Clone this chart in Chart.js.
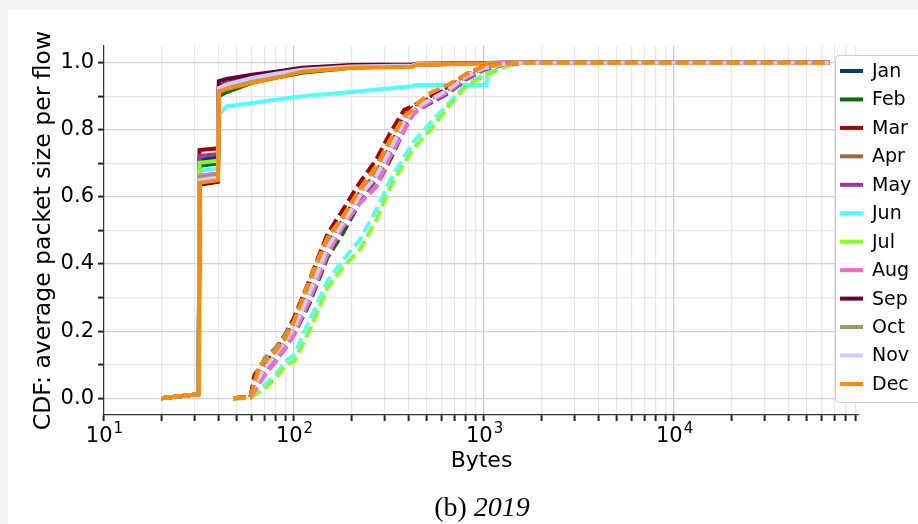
<!DOCTYPE html>
<html>
<head>
<meta charset="utf-8">
<title>CDF: average packet size per flow - 2019</title>
<script src="https://cdn.jsdelivr.net/npm/chart.js@4.4.1/dist/chart.umd.min.js"></script>
<style>
  html, body { margin: 0; padding: 0; background: #f3f3f3; }
  #panel { position: absolute; left: 8px; top: 10px; width: 910px; height: 514px; background: #fff; overflow: hidden; }
  canvas { display: block; }
</style>
</head>
<body>
<div id="panel"><canvas id="cdfChart" width="910" height="514"></canvas></div>
<script>
const months = ['Jan', 'Feb', 'Mar', 'Apr', 'May', 'Jun', 'Jul', 'Aug', 'Sep', 'Oct', 'Nov', 'Dec'];
const monthColors = ['#0a3a6b', '#0a6e0a', '#a30000', '#a26639', '#a0379f', '#55ffff',
                     '#88ff2a', '#ff66cc', '#660033', '#999966', '#ccccff', '#ff8c00'];

// solid curves: bytes and CDF per month
const solidBytes = [20, 31.5, 31.8, 39.8, 40.2, 44, 60, 80, 110, 200, 420, 440, 1030, 1045, 1600, 66000];
const solidCdf = [
  [0, 0.012, 0.710, 0.718, 0.920, 0.930, 0.952, 0.965, 0.978, 0.988, 0.991, 0.995, 0.998, 0.999, 1, 1],
  [0, 0.012, 0.693, 0.700, 0.900, 0.912, 0.940, 0.955, 0.970, 0.985, 0.990, 0.995, 0.998, 0.999, 1, 1],
  [0, 0.012, 0.740, 0.745, 0.930, 0.940, 0.958, 0.970, 0.982, 0.990, 0.993, 0.996, 0.998, 0.999, 1, 1],
  [0, 0.012, 0.662, 0.670, 0.915, 0.928, 0.950, 0.963, 0.976, 0.987, 0.990, 0.995, 0.998, 0.999, 1, 1],
  [0, 0.012, 0.722, 0.728, 0.928, 0.938, 0.956, 0.968, 0.980, 0.989, 0.992, 0.996, 0.998, 0.999, 1, 1],
  [0, 0.012, 0.678, 0.685, 0.845, 0.870, 0.880, 0.890, 0.900, 0.913, 0.930, 0.934, 0.934, 1, 1, 1],
  [0, 0.012, 0.702, 0.708, 0.915, 0.926, 0.948, 0.962, 0.975, 0.987, 0.990, 0.995, 0.998, 0.999, 1, 1],
  [0, 0.012, 0.663, 0.670, 0.918, 0.930, 0.950, 0.964, 0.977, 0.988, 0.991, 0.995, 0.998, 0.999, 1, 1],
  [0, 0.012, 0.636, 0.645, 0.945, 0.952, 0.964, 0.973, 0.985, 0.993, 0.995, 0.997, 0.999, 0.999, 1, 1],
  [0, 0.012, 0.657, 0.665, 0.912, 0.925, 0.948, 0.962, 0.975, 0.987, 0.990, 0.995, 0.998, 0.999, 1, 1],
  [0, 0.012, 0.650, 0.658, 0.925, 0.935, 0.955, 0.967, 0.979, 0.989, 0.992, 0.996, 0.998, 0.999, 1, 1],
  [0, 0.012, 0.642, 0.650, 0.915, 0.922, 0.940, 0.955, 0.973, 0.985, 0.988, 0.995, 0.998, 0.999, 1, 1]
];

// dashed curves: bytes and CDF per month
const dashedBytes = [48, 59, 62, 66, 70, 80, 90, 100, 120, 150, 180, 220, 270, 320, 380, 420, 450, 520, 650, 800, 1000, 1300, 1600, 66000];
const dashedCdf = [
  [0, 0.003, 0.035, 0.06, 0.085, 0.125, 0.165, 0.205, 0.30, 0.445, 0.515, 0.595, 0.655, 0.735, 0.82, 0.855, 0.865, 0.885, 0.915, 0.955, 0.982, 0.996, 1, 1],
  [0, 0.002, 0.03, 0.05, 0.07, 0.11, 0.15, 0.19, 0.28, 0.42, 0.49, 0.58, 0.63, 0.71, 0.80, 0.845, 0.86, 0.88, 0.91, 0.95, 0.98, 0.995, 1, 1],
  [0, 0.005, 0.07, 0.09, 0.11, 0.15, 0.19, 0.24, 0.35, 0.49, 0.56, 0.64, 0.71, 0.79, 0.86, 0.87, 0.88, 0.90, 0.93, 0.965, 0.99, 0.998, 1, 1],
  [0, 0.003, 0.04, 0.065, 0.09, 0.13, 0.17, 0.21, 0.31, 0.45, 0.52, 0.60, 0.66, 0.74, 0.83, 0.86, 0.87, 0.89, 0.92, 0.96, 0.985, 0.997, 1, 1],
  [0, 0.003, 0.03, 0.055, 0.08, 0.12, 0.16, 0.20, 0.30, 0.44, 0.51, 0.59, 0.65, 0.73, 0.81, 0.85, 0.86, 0.88, 0.91, 0.95, 0.98, 0.995, 1, 1],
  [0, 0.0, 0.015, 0.03, 0.04, 0.07, 0.11, 0.13, 0.23, 0.35, 0.41, 0.47, 0.56, 0.65, 0.72, 0.76, 0.78, 0.82, 0.88, 0.935, 0.965, 0.99, 1, 1],
  [0, 0.0, 0.01, 0.02, 0.03, 0.06, 0.10, 0.11, 0.20, 0.33, 0.39, 0.44, 0.53, 0.63, 0.70, 0.74, 0.76, 0.80, 0.87, 0.93, 0.96, 0.99, 1, 1],
  [0, 0.002, 0.02, 0.045, 0.07, 0.11, 0.15, 0.19, 0.29, 0.43, 0.51, 0.58, 0.63, 0.72, 0.80, 0.845, 0.86, 0.885, 0.915, 0.955, 0.983, 0.996, 1, 1],
  [0, 0.004, 0.05, 0.08, 0.10, 0.14, 0.18, 0.22, 0.32, 0.46, 0.53, 0.61, 0.67, 0.75, 0.84, 0.865, 0.875, 0.895, 0.925, 0.962, 0.987, 0.997, 1, 1],
  [0, 0.003, 0.04, 0.08, 0.12, 0.15, 0.19, 0.23, 0.33, 0.47, 0.53, 0.61, 0.67, 0.75, 0.83, 0.86, 0.875, 0.89, 0.92, 0.96, 0.985, 0.997, 1, 1],
  [0, 0.003, 0.04, 0.065, 0.09, 0.13, 0.17, 0.21, 0.31, 0.45, 0.52, 0.60, 0.66, 0.74, 0.825, 0.86, 0.87, 0.89, 0.92, 0.96, 0.985, 0.997, 1, 1],
  [0, 0.003, 0.05, 0.10, 0.11, 0.14, 0.18, 0.23, 0.35, 0.48, 0.54, 0.62, 0.69, 0.77, 0.84, 0.86, 0.88, 0.91, 0.935, 0.965, 0.99, 0.998, 1, 1]
];

// axis ticks
const xMajorTicks = [10, 100, 1000, 10000];
const xMinorTicks = [20, 30, 40, 50, 60, 70, 80, 90,
                     200, 300, 400, 500, 600, 700, 800, 900,
                     2000, 3000, 4000, 5000, 6000, 7000, 8000, 9000,
                     20000, 30000, 40000, 50000, 60000, 70000, 80000, 90000];
const xTickExponents = ['1', '2', '3', '4'];
const yTicks = [0, 0.1, 0.2, 0.3, 0.4, 0.5, 0.6, 0.7, 0.8, 0.9, 1.0];
const yTickLabels = ['0.0', '', '0.2', '', '0.4', '', '0.6', '', '0.8', '', '1.0'];

const xTitle = 'Bytes';
const yTitle = 'CDF: average packet size per flow';
const captionLetter = '(b) ';
const captionYear = '2019';

function buildDatasets() {
  const datasets = [];
  months.forEach((m, i) => {
    datasets.push({
      label: m,
      data: solidBytes.map((b, k) => ({ x: b, y: solidCdf[i][k] })),
      borderColor: monthColors[i],
      borderWidth: 4,
      order: 100 - i
    });
  });
  // dashed ones are drawn after all the solid ones
  months.forEach((m, i) => {
    datasets.push({
      label: m + ' (dashed)',
      data: dashedBytes.map((b, k) => ({ x: b, y: dashedCdf[i][k] })),
      borderColor: monthColors[i],
      borderWidth: 4,
      borderDash: [12, 5],
      order: 100 - 12 - i
    });
  });
  return datasets;
}

// tick labels with superscripts, axis titles, caption
const axisText = {
  id: 'axisText',
  afterDraw(chart) {
    const ctx = chart.ctx;
    const xs = chart.scales.x;
    const area = chart.chartArea;
    ctx.save();
    ctx.fillStyle = '#000';
    ctx.textBaseline = 'alphabetic';

    xMajorTicks.forEach((v, i) => {
      const px = xs.getPixelForValue(v);
      ctx.font = '21px "DejaVu Sans"';
      const wBase = ctx.measureText('10').width;
      ctx.font = '15px "DejaVu Sans"';
      const wExp = ctx.measureText(xTickExponents[i]).width;
      const left = px - (wBase + wExp) / 2;
      ctx.font = '21px "DejaVu Sans"';
      ctx.textAlign = 'left';
      ctx.fillText('10', left, 432);
      ctx.font = '15px "DejaVu Sans"';
      ctx.fillText(xTickExponents[i], left + wBase + 1, 423);
    });

    ctx.font = '22px "DejaVu Sans"';
    ctx.textAlign = 'center';
    ctx.fillText(xTitle, (area.left + area.right) / 2, 457);

    ctx.save();
    ctx.translate(42, (area.top + area.bottom) / 2);
    ctx.rotate(-Math.PI / 2);
    ctx.font = '23.5px "DejaVu Sans"';
    ctx.fillText(yTitle, 0, 0);
    ctx.restore();

    ctx.textAlign = 'left';
    ctx.font = '28px "Liberation Serif"';
    const w1 = ctx.measureText(captionLetter).width;
    ctx.font = 'italic 28px "Liberation Serif"';
    const w2 = ctx.measureText(captionYear).width;
    const cx = 474 - (w1 + w2) / 2;
    ctx.font = '28px "Liberation Serif"';
    ctx.fillText(captionLetter, cx, 506);
    ctx.font = 'italic 28px "Liberation Serif"';
    ctx.fillText(captionYear, cx + w1, 506);
    ctx.restore();
  }
};

const legendBox = {
  id: 'legendBox',
  afterDraw(chart) {
    const ctx = chart.ctx;
    ctx.save();
    ctx.beginPath();
    ctx.roundRect(827.5, 45.5, 110, 347, 4);
    ctx.fillStyle = 'rgba(255,255,255,0.85)';
    ctx.fill();
    ctx.strokeStyle = '#cccccc';
    ctx.lineWidth = 1;
    ctx.stroke();
    ctx.font = '19px "DejaVu Sans"';
    ctx.textBaseline = 'middle';
    months.forEach((m, i) => {
      const yy = 61 + i * 28.45;
      ctx.strokeStyle = monthColors[i];
      ctx.lineWidth = 4;
      ctx.beginPath();
      ctx.moveTo(832, yy);
      ctx.lineTo(855, yy);
      ctx.stroke();
      ctx.fillStyle = '#000';
      ctx.fillText(m, 864, yy + 1);
    });
    ctx.restore();
  }
};

const ctx = document.getElementById('cdfChart').getContext('2d');
new Chart(ctx, {
  type: 'line',
  data: { datasets: buildDatasets() },
  options: {
    responsive: false,
    animation: false,
    devicePixelRatio: 1,
    layout: { padding: { left: 0, top: 36, right: 59, bottom: 0 } },
    elements: { point: { radius: 0 }, line: { tension: 0 } },
    plugins: { legend: { display: false }, tooltip: { enabled: false } },
    scales: {
      x: {
        type: 'logarithmic',
        min: 10,
        max: 94000,
        afterBuildTicks: scale => {
          scale.ticks = xMajorTicks.concat(xMinorTicks).sort((a, b) => a - b)
            .map(v => ({ value: v }));
        },
        afterFit: scale => { scale.height = 109; },
        ticks: { display: false, autoSkip: false },
        grid: {
          color: c => xMajorTicks.includes(c.tick.value) ? '#c8c8c8' : '#e6e6e6',
          lineWidth: 1.2,
          drawTicks: true,
          tickLength: 6,
          tickWidth: 2,
          tickColor: '#222'
        },
        border: { display: true, color: '#333', width: 1.2 }
      },
      y: {
        type: 'linear',
        min: -0.05,
        max: 1.05,
        afterBuildTicks: scale => {
          scale.ticks = yTicks.map(v => ({ value: v }));
        },
        afterFit: scale => { scale.width = 96; },
        ticks: {
          autoSkip: false,
          padding: 4,
          color: '#000',
          font: { family: 'DejaVu Sans', size: 21 },
          callback: (v, i) => yTickLabels[i]
        },
        grid: {
          color: c => (Math.round(c.tick.value * 10) % 2 === 0) ? '#d2d2d2' : '#e6e6e6',
          lineWidth: 1.2,
          drawTicks: true,
          tickLength: 6,
          tickWidth: 2,
          tickColor: '#222'
        },
        border: { display: true, color: '#333', width: 1.2 }
      }
    }
  },
  plugins: [axisText, legendBox]
});
</script>
</body>
</html>
